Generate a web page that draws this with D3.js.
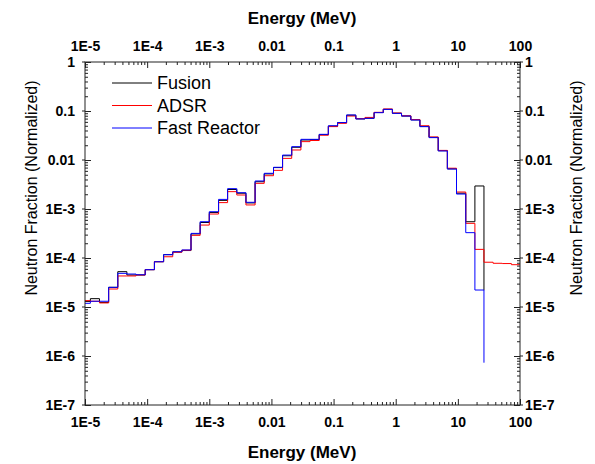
<!DOCTYPE html>
<html>
<head>
<meta charset="utf-8">
<script src="https://cdn.jsdelivr.net/npm/d3@7"></script>
<style>
  body { margin: 0; background: #fff; }
  svg { display: block; font-family: "Liberation Sans", Arial, sans-serif; }
  .axis path { display: none; }
  .axis line { stroke: #222; }
  .axis text { font-size: 14px; font-weight: bold; fill: #000; }
</style>
</head>
<body>
<div class="chart"></div>
<script>
// bin edges in MeV (lower edge of each bin, last one closes the final bin)
var binEdges = [8.67e-6, 1.22e-5, 1.71e-5, 2.40e-5, 3.37e-5, 4.72e-5, 6.64e-5, 9.31e-5,
  1.31e-4, 1.84e-4, 2.58e-4, 3.62e-4, 5.08e-4, 7.13e-4, 1.00e-3, 1.41e-3, 1.97e-3,
  2.77e-3, 3.89e-3, 5.46e-3, 7.66e-3, 1.08e-2, 1.51e-2, 2.12e-2, 2.98e-2, 4.18e-2,
  5.87e-2, 8.24e-2, 0.116, 0.162, 0.228, 0.320, 0.449, 0.631, 0.885, 1.24, 1.75,
  2.45, 3.44, 4.83, 6.78, 9.51, 13.4, 18.8, 26.3, 36.9, 51.8, 72.7, 102];

// neutron fraction per bin (last value = end point of the step line)
var fusion = [1.3e-5, 1.48e-5, 1.24e-5, 2.52e-5, 5.26e-5, 4.5e-5, 4.5e-5, 5.78e-5,
  8.4e-5, 1.17e-4, 1.33e-4, 1.42e-4, 3.1e-4, 5.3e-4, 8.5e-4, 1.5e-3, 2.5e-3, 2.1e-3,
  1.33e-3, 3.6e-3, 5.2e-3, 7.0e-3, 1.22e-2, 1.82e-2, 2.56e-2, 2.6e-2, 3.3e-2, 4.9e-2,
  5.8e-2, 8.2e-2, 6.9e-2, 7.1e-2, 9.3e-2, 0.108, 9.0e-2, 7.9e-2, 6.6e-2, 4.85e-2,
  2.9e-2, 1.55e-2, 6.6e-3, 2.1e-3, 5.5e-4, 2.95e-3, 2.2e-5];

var adsr = [1.35e-5, 1.31e-5, 1.21e-5, 2.33e-5, 4.3e-5, 4.3e-5, 4.5e-5, 5.78e-5,
  8.4e-5, 1.06e-4, 1.31e-4, 1.44e-4, 2.9e-4, 4.7e-4, 7.9e-4, 1.35e-3, 2.26e-3, 1.93e-3,
  1.21e-3, 3.34e-3, 4.78e-3, 6.15e-3, 1.08e-2, 1.6e-2, 2.37e-2, 2.5e-2, 3.2e-2, 4.8e-2,
  5.6e-2, 7.9e-2, 7.0e-2, 7.4e-2, 9.4e-2, 0.11, 9.1e-2, 8.0e-2, 6.7e-2, 5.0e-2,
  2.95e-2, 1.57e-2, 6.8e-3, 2.22e-3, 5.1e-4, 1.5e-4, 8.2e-5, 7.8e-5, 7.7e-5, 7.3e-5, 7.3e-5];

var fastReactor = [1.19e-5, 1.31e-5, 1.31e-5, 2.52e-5, 4.86e-5, 4.71e-5, 4.55e-5, 5.78e-5,
  8.4e-5, 1.17e-4, 1.34e-4, 1.46e-4, 3.18e-4, 5.5e-4, 8.8e-4, 1.57e-3, 2.6e-3, 2.15e-3,
  1.37e-3, 3.73e-3, 5.35e-3, 7.1e-3, 1.26e-2, 1.87e-2, 2.64e-2, 2.64e-2, 3.34e-2, 5.0e-2,
  5.8e-2, 8.3e-2, 6.9e-2, 7.1e-2, 9.25e-2, 0.108, 8.95e-2, 7.9e-2, 6.55e-2, 4.79e-2,
  2.86e-2, 1.53e-2, 6.55e-3, 2.02e-3, 3.29e-4, 2.22e-5, 7.3e-7];

var seriesNames = ["Fusion", "ADSR", "Fast Reactor"];
var seriesColors = ["#000000", "#ff0000", "#0000ff"];

var xTicks = [1e-5, 1e-4, 1e-3, 1e-2, 1e-1, 1, 10, 100];
var xTickLabels = ["1E-5", "1E-4", "1E-3", "0.01", "0.1", "1", "10", "100"];
var yTicks = [1, 1e-1, 1e-2, 1e-3, 1e-4, 1e-5, 1e-6, 1e-7];
var yTickLabels = ["1", "0.1", "0.01", "1E-3", "1E-4", "1E-5", "1E-6", "1E-7"];

function minorTicks(lo, hi) {
  var t = [];
  for (var p = lo; p < hi; p++) {
    for (var m = 2; m < 10; m++) t.push(m * Math.pow(10, p));
  }
  return t;
}

function drawChart() {
  var chart = {
    width: 595, height: 464,
    left: 85, right: 520, top: 62, bottom: 405
  };
  var svg = d3.select(".chart").append("svg")
    .attr("width", chart.width)
    .attr("height", chart.height);

  var x = d3.scaleLog().domain([1e-5, 100]).range([chart.left, chart.right]);
  var y = d3.scaleLog().domain([1e-7, 1]).range([chart.bottom, chart.top]);
  var xLabel = function (d) { return xTickLabels[xTicks.indexOf(d)]; };
  var yLabel = function (d) { return yTickLabels[yTicks.indexOf(d)]; };
  var xMinor = minorTicks(-5, 2);
  var yMinor = minorTicks(-7, 0);

  svg.append("clipPath").attr("id", "plot")
    .append("rect")
    .attr("x", chart.left).attr("y", chart.top)
    .attr("width", chart.right - chart.left)
    .attr("height", chart.bottom - chart.top);

  // step lines
  var line = d3.line()
    .x(d => x(d[0]))
    .y(d => y(d[1]))
    .curve(d3.curveStepAfter);

  [fusion, adsr, fastReactor].forEach(function (vals, i) {
    var pts = vals.map((v, k) => [binEdges[k], v]);
    svg.append("path")
      .datum(pts)
      .attr("clip-path", "url(#plot)")
      .attr("fill", "none")
      .attr("stroke", seriesColors[i])
      .attr("stroke-width", 1)
      .attr("d", line);
  });

  // axes: majors with labels, minors without
  function addAxis(axisFn, scale, ticks, fmt, size, pad, transform) {
    svg.append("g")
      .attr("class", "axis")
      .attr("transform", transform)
      .call(axisFn(scale).tickValues(ticks).tickFormat(fmt)
        .tickSizeInner(size).tickSizeOuter(0).tickPadding(pad));
  }
  addAxis(d3.axisBottom, x, xTicks, xLabel, -6, 12, `translate(0,${chart.bottom})`);
  addAxis(d3.axisBottom, x, xMinor, "", -3, 0, `translate(0,${chart.bottom})`);
  addAxis(d3.axisTop, x, xTicks, xLabel, -6, 11, `translate(0,${chart.top})`);
  addAxis(d3.axisTop, x, xMinor, "", -3, 0, `translate(0,${chart.top})`);
  addAxis(d3.axisLeft, y, yTicks, yLabel, -6, 10, `translate(${chart.left},0)`);
  addAxis(d3.axisLeft, y, yMinor, "", -3, 0, `translate(${chart.left},0)`);
  addAxis(d3.axisRight, y, yTicks, yLabel, -6, 5, `translate(${chart.right},0)`);
  addAxis(d3.axisRight, y, yMinor, "", -3, 0, `translate(${chart.right},0)`);

  // short outward ticks on the y axes
  [chart.left, chart.right].forEach(function (ax) {
    var dir = ax === chart.left ? -1 : 1;
    svg.append("g").selectAll("line")
      .data(yTicks)
      .enter().append("line")
      .attr("x1", ax).attr("x2", ax + dir * 3)
      .attr("y1", d => y(d)).attr("y2", d => y(d))
      .attr("stroke", "#222");
  });

  svg.append("rect")
    .attr("x", chart.left).attr("y", chart.top)
    .attr("width", chart.right - chart.left)
    .attr("height", chart.bottom - chart.top)
    .attr("fill", "none")
    .attr("stroke", "#222");

  // titles
  svg.append("text")
    .attr("x", 302).attr("y", 452).attr("dy", "0.35em")
    .attr("text-anchor", "middle")
    .style("font-size", "17px").style("font-weight", "bold")
    .text("Energy (MeV)");
  svg.append("text")
    .attr("x", 302).attr("y", 18).attr("dy", "0.35em")
    .attr("text-anchor", "middle")
    .style("font-size", "17px").style("font-weight", "bold")
    .text("Energy (MeV)");
  svg.append("text")
    .attr("transform", "translate(31,188) rotate(-90)")
    .attr("dy", "0.35em")
    .attr("text-anchor", "middle")
    .style("font-size", "16px")
    .text("Neutron Fraction (Normalized)");
  svg.append("text")
    .attr("transform", "translate(576,188) rotate(-90)")
    .attr("dy", "0.35em")
    .attr("text-anchor", "middle")
    .style("font-size", "16px")
    .text("Neutron Fraction (Normalized)");

  // legend
  var legend = svg.append("g");
  seriesNames.forEach(function (name, i) {
    var ly = 83 + i * 22.5;
    legend.append("line")
      .attr("x1", 112).attr("x2", 152)
      .attr("y1", ly).attr("y2", ly)
      .attr("stroke", seriesColors[i]);
    legend.append("text")
      .attr("x", 157).attr("y", ly).attr("dy", "0.35em")
      .style("font-size", "18px")
      .text(name);
  });
}

drawChart();
</script>
</body>
</html>
